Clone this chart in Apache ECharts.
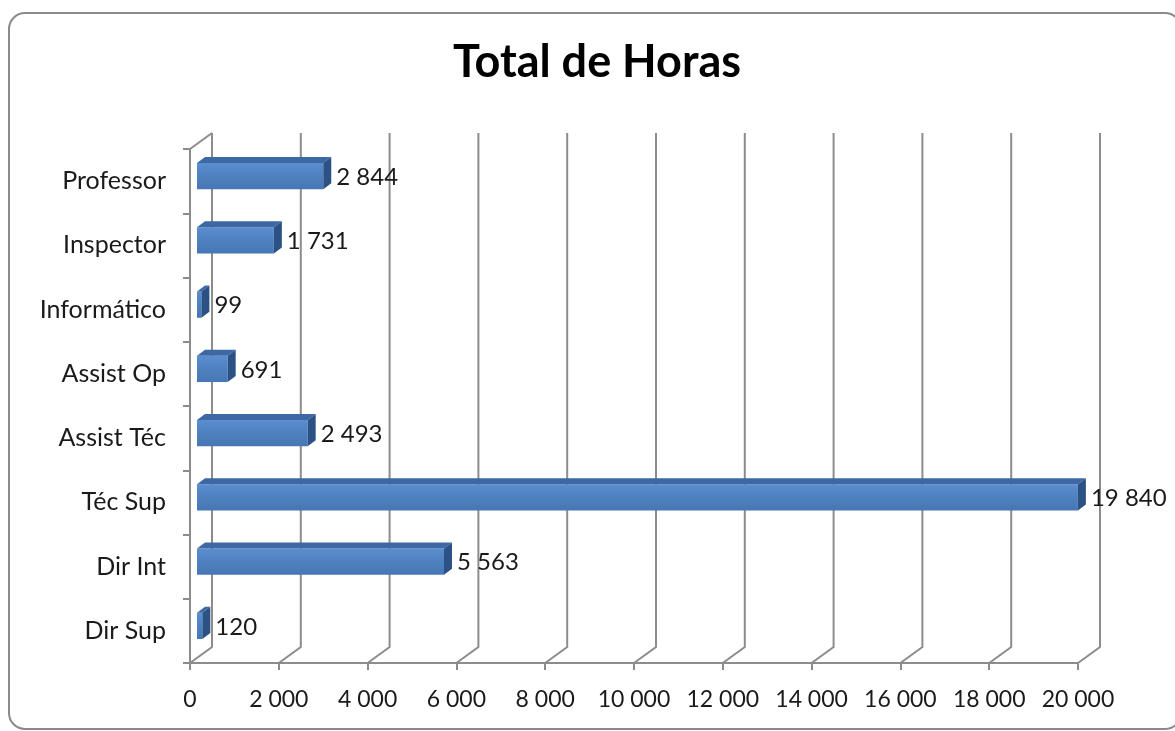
<!DOCTYPE html>
<html>
<head>
<meta charset="utf-8">
<script src="https://cdn.jsdelivr.net/npm/echarts@6/dist/echarts.min.js"></script>
<style>html,body{margin:0;padding:0;background:#fff}#c{width:1175px;height:731px}</style>
</head>
<body>
<div id="c"></div>
<script>
var title = 'Total de Horas';
var categories = ['Dir Sup', 'Dir Int', 'Téc Sup', 'Assist Téc', 'Assist Op', 'Informático', 'Inspector', 'Professor'];
var values = [120, 5563, 19840, 2493, 691, 99, 1731, 2844];
var xMin = 0, xMax = 20000, xStep = 2000;

function fmt(v) { return String(v).replace(/\B(?=(\d{3})+(?!\d))/g, ' '); }

var FONT = 'Lato';
var DX = 22, DY = -16;       // depth of the back wall
var BX = 7, BY = -5;         // bar front face offset
var SX = 8, SY = -6;         // bar depth
var GRID = '#8c8c8c';

var chart = echarts.init(document.getElementById('c'));
chart.setOption({
  backgroundColor: '#fff',
  animation: false,
  graphic: [
    { type: 'rect', shape: { x: 9, y: 13, width: 1172, height: 716, r: 16 },
      style: { fill: 'none', stroke: '#8a8a8a', lineWidth: 2 }, z: 0 },
    { type: 'text', x: 597, y: 40,
      style: { text: title, font: 'bold 45px Lato', fill: '#000', align: 'center', verticalAlign: 'top' } }
  ],
  grid: { left: 190, top: 149, width: 888, height: 514 },
  xAxis: {
    type: 'value', min: xMin, max: xMax, interval: xStep,
    axisLine: { show: true, lineStyle: { color: GRID, width: 2 } },
    axisTick: { show: true, length: 7, lineStyle: { color: GRID, width: 2 } },
    splitLine: { show: false },
    axisLabel: { fontFamily: FONT, fontSize: 23, color: '#1a1a1a', margin: 25, formatter: fmt }
  },
  yAxis: {
    type: 'category', data: categories,
    axisLine: { show: true, lineStyle: { color: GRID, width: 2 } },
    axisTick: { show: true, length: 7, lineStyle: { color: GRID, width: 2 } },
    axisLabel: { fontFamily: FONT, fontSize: 25, color: '#1a1a1a', margin: 24 },
    splitLine: { show: false }
  },
  series: [
    {
      type: 'custom', z: 1, silent: true,
      data: [[0, 0]],
      renderItem: function (params, api) {
        var cs = params.coordSys;
        var yb = cs.y + cs.height, yt = cs.y;
        var children = [];
        var ls = { stroke: GRID, lineWidth: 2, fill: null };
        for (var v = xMin; v <= xMax; v += xStep) {
          var x = api.coord([v, 0])[0];
          children.push({ type: 'polyline', shape: { points: [[x, yb], [x + DX, yb + DY], [x + DX, yt + DY]] }, style: ls });
        }
        children.push({ type: 'line', shape: { x1: cs.x, y1: yt, x2: cs.x + DX, y2: yt + DY }, style: ls });
        return { type: 'group', children: children };
      }
    },
    {
      type: 'custom', z: 3,
      encode: { x: 0, y: 1 },
      data: values.map(function (v, i) { return [v, i]; }),
      renderItem: function (params, api) {
        var v = api.value(0), idx = api.value(1);
        var p0 = api.coord([0, idx]);
        var p1 = api.coord([v, idx]);
        var band = api.size([0, 1])[1];
        var h = band * 0.41;
        var x0 = p0[0] + BX, x1 = p1[0] + BX;
        var cy = p0[1] + BY;
        var yt = cy - h / 2, yb = cy + h / 2;
        return {
          type: 'group',
          children: [
            { type: 'rect', shape: { x: x0, y: yt, width: x1 - x0, height: h },
              style: { fill: new echarts.graphic.LinearGradient(0, 0, 0, 1, [
                { offset: 0, color: '#5b8ed0' }, { offset: 0.5, color: '#4f81c0' }, { offset: 1, color: '#4676b4' }]) } },
            { type: 'polygon', shape: { points: [[x0, yt], [x1, yt], [x1 + SX, yt + SY], [x0 + SX, yt + SY]] },
              style: { fill: '#3d68a3' } },
            { type: 'polygon', shape: { points: [[x1, yt], [x1 + SX, yt + SY], [x1 + SX, yb + SY], [x1, yb]] },
              style: { fill: '#2c5285' } },
            { type: 'text', x: x1 + SX + 5, y: cy + 1,
              style: { text: fmt(v), font: '24px Lato', fill: '#1a1a1a', verticalAlign: 'middle', align: 'left' } }
          ]
        };
      }
    }
  ]
});
</script>
</body>
</html>
